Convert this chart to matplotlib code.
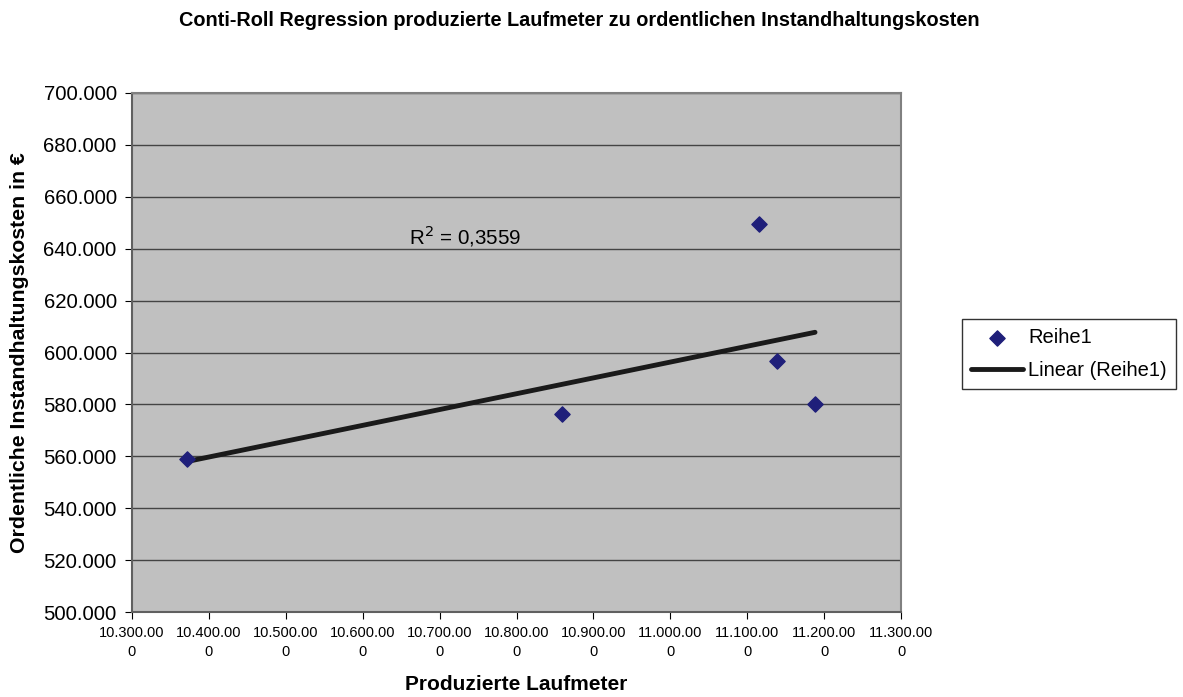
import numpy as np
import matplotlib.pyplot as plt
from matplotlib.ticker import FuncFormatter

plt.rcParams['font.family'] = ['Liberation Sans', 'DejaVu Sans']

# Daten: produzierte Laufmeter und ordentliche Instandhaltungskosten
laufmeter = [10371500, 10859200, 11115300, 11138700, 11188200]
kosten = [558960, 576300, 649500, 596700, 580150]
r2_text = "R$^2$ = 0,3559"

x_ticks = list(range(10300000, 11300001, 100000))
y_ticks = list(range(500000, 700001, 20000))

def de_num(v):
    s = f"{int(v):,}".replace(",", ".")
    return s

def x_fmt(v, pos):
    s = de_num(v)
    return s[:-1] + "\n" + s[-1]

fig = plt.figure(figsize=(11.83, 6.97), dpi=100)
ax = fig.add_axes([132/1183, 1 - 612/697, (901-132)/1183, (612-93)/697])
ax.set_facecolor('#c0c0c0')

# lineare Regression
m, b = np.polyfit(laufmeter, kosten, 1)
xs = np.array([min(laufmeter), max(laufmeter)])
ax.plot(xs, m*xs + b, color='#1a1a1a', lw=3.5, solid_capstyle='round',
        label='Linear (Reihe1)', zorder=3)
ax.scatter(laufmeter, kosten, marker='D', s=60, color='#1f1f7a',
           label='Reihe1', zorder=4)

ax.set_xlim(10300000, 11300000)
ax.set_ylim(500000, 700000)
ax.set_xticks(x_ticks)
ax.set_yticks(y_ticks)
ax.xaxis.set_major_formatter(FuncFormatter(x_fmt))
ax.yaxis.set_major_formatter(FuncFormatter(lambda v, p: de_num(v)))
ax.tick_params(axis='y', labelsize=14.7, direction='out', length=5, pad=6)
ax.tick_params(axis='x', labelsize=10.5, direction='out', length=5, pad=5)
for lbl in ax.get_xticklabels():
    lbl.set_linespacing(1.45)
ax.grid(axis='y', color='#444444', lw=1)
ax.set_axisbelow(True)
for sp in ax.spines.values():
    sp.set_color('#808080')
    sp.set_linewidth(1.5)
ax.spines['left'].set_color('#606060')
ax.spines['bottom'].set_color('#606060')

ax.text(10733000, 644800, r2_text, fontsize=14.8, ha='center', va='center')

ax.set_xlabel('Produzierte Laufmeter', fontsize=15, fontweight='bold', va='center')
ax.xaxis.set_label_coords(0.5, (612 - 685) / 519)
ax.set_ylabel('Ordentliche Instandhaltungskosten in €', fontsize=15.3,
              fontweight='bold', va='center')
ax.yaxis.set_label_coords((20 - 132) / 769, 0.5)
fig.text(0.49, 1 - 21/697, 'Conti-Roll Regression produzierte Laufmeter zu ordentlichen Instandhaltungskosten',
         ha='center', va='center', fontsize=14.3, fontweight='bold')

handles, labels = ax.get_legend_handles_labels()
leg = ax.legend(handles[::-1], labels[::-1], loc='upper left',
                bbox_to_anchor=(962/1183, 1 - 319/697), bbox_transform=fig.transFigure,
                borderaxespad=0, fontsize=14.5, frameon=True, fancybox=False,
                edgecolor='black', handlelength=2.6, handletextpad=0.25,
                borderpad=0.45, labelspacing=0.7)
leg.get_frame().set_linewidth(1)

fig.savefig('out.png', dpi=100, facecolor='white')
